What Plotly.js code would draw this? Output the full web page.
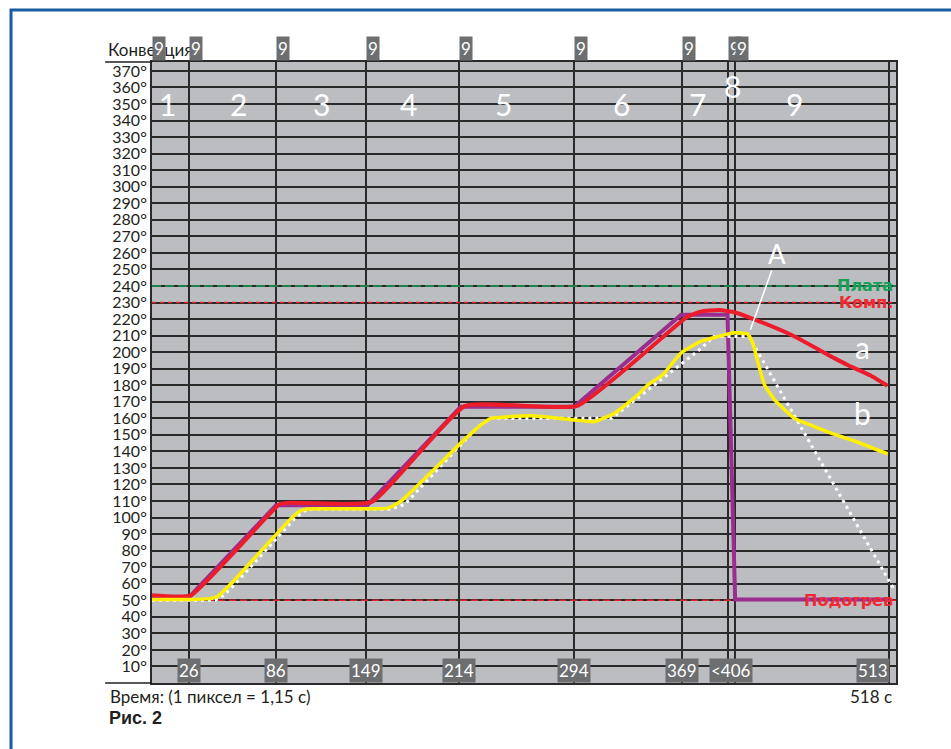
<!DOCTYPE html>
<html>
<head>
<meta charset="utf-8">
<script src="https://cdn.plot.ly/plotly-3.0.1.min.js"></script>
<style>
html,body{margin:0;padding:0;background:#fff;}
#chart{width:951px;height:749px;}
</style>
</head>
<body>
<div id="chart"></div>
<script>
// ---- data ----
var purpleT = [0, 26, 86.4, 150, 215, 294, 368.4, 400.7, 406, 513];
var purpleV = [52, 52, 107.5, 107.5, 167, 167, 222.6, 222.6, 50.5, 50.5];

var redT = [0, 27, 88.7, 95, 153, 218, 296, 372, 382, 395, 406, 417, 445, 475, 484, 500, 512];
var redV = [53, 53, 108, 109, 109.5, 167.5, 167.5, 221, 224.5, 225.5, 224, 220.6, 210.5, 196.4, 192.4, 186, 179.7];

var yellowT = [0, 26, 40, 46, 55, 97, 103, 108, 164, 173, 215, 229, 236, 264, 294, 308, 322, 338, 345, 355.6, 368.4, 382, 391, 405, 414.7, 418.2, 422.6, 426.4, 433.4, 447.2, 461.2, 472.8, 490, 512.2];
var yellowV = [50.5, 50.5, 51, 52.5, 60, 99.6, 104, 105.2, 105.7, 109.7, 145, 156, 160, 161.5, 159, 158, 163, 174, 180, 186.3, 199.6, 206.5, 208.7, 211.7, 211, 205.7, 191.4, 180.3, 171.2, 160.1, 155, 151, 146, 138.5];

var dotT = [0, 44, 50, 58, 100, 106, 112, 166, 176, 227, 236, 320, 382, 391, 415.6, 517];
var dotV = [50, 50, 53, 60, 100, 104, 105, 105, 108, 155, 160, 160, 202, 209.5, 209.5, 56];

var limitPlata = 240;
var limitKomp = 230;
var limitPodogrev = 50;

var boundaries = [26, 86, 149, 214, 294, 369, 400.7, 406, 513];
var topMarks = [0, 26, 86, 149, 214, 294, 369, 400.7, 406];
var bottomMarks = [26, 86, 149, 214, 294, 369, 403];
var bottomLabels = ['26', '86', '149', '214', '294', '369', '<406'];
var zoneLabels = ['1', '2', '3', '4', '5', '6', '7', '8', '9'];
var zoneT = [11, 60, 117.8, 178.3, 245, 326.6, 380, 404.5, 447];
var zoneV = [350, 350, 350, 350, 350, 350, 350, 361, 350];

var yTicks = [];
var yTickText = [];
for (var v = 10; v <= 370; v += 10) { yTicks.push(v); yTickText.push(v + '°'); }

var tEnd = 518;

// ---- traces ----
var traces = [
  {x: [0, tEnd], y: [limitPlata, limitPlata], mode: 'lines', line: {color: '#17a058', width: 1.5, dash: '9px,4px'}, hoverinfo: 'skip'},
  {x: [0, tEnd], y: [limitKomp, limitKomp], mode: 'lines', line: {color: '#e3202b', width: 1.5, dash: '4px,4px'}, hoverinfo: 'skip'},
  {x: [0, tEnd], y: [limitPodogrev, limitPodogrev], mode: 'lines', line: {color: '#e3202b', width: 1.5, dash: '7px,4px'}, hoverinfo: 'skip'},
  {x: purpleT, y: purpleV, mode: 'lines', line: {color: '#9a2d8f', width: 4}},
  {x: redT, y: redV, mode: 'lines', line: {color: '#ec1c2a', width: 4, shape: 'spline', smoothing: 0.4}},
  {x: dotT, y: dotV, mode: 'lines', line: {color: '#ffffff', width: 3, dash: '3px,4px'}},
  {x: yellowT, y: yellowV, mode: 'lines', line: {color: '#fff000', width: 3.5, shape: 'spline', smoothing: 0.4}}
];

// ---- annotations ----
var ann = [];
var fontMain = 'Lato, "DejaVu Sans", sans-serif';
ann.push({xref: 'paper', yref: 'paper', x: -0.062, y: 1, xanchor: 'left', yanchor: 'bottom', yshift: 0,
  text: 'Конвекция', showarrow: false, font: {family: fontMain, size: 17, color: '#231f20'}});
topMarks.forEach(function (t) {
  ann.push({x: t, y: 1, xref: 'x', yref: 'paper', xanchor: 'left', yanchor: 'bottom', yshift: 1,
    text: '9', showarrow: false, bgcolor: '#6d6e70', borderpad: 1,
    font: {family: fontMain, size: 17, color: '#ffffff'}});
});
bottomMarks.forEach(function (t, i) {
  ann.push({x: t, y: 0, xref: 'x', yref: 'paper', xanchor: 'center', yanchor: 'bottom', yshift: 0,
    text: bottomLabels[i], showarrow: false, bgcolor: '#6d6e70', borderpad: 1,
    font: {family: fontMain, size: 17, color: '#ffffff'}});
});
ann.push({x: 513.5, y: 0, xref: 'x', yref: 'paper', xanchor: 'right', yanchor: 'bottom',
  text: '513', showarrow: false, bgcolor: '#6d6e70', borderpad: 1,
  font: {family: fontMain, size: 17, color: '#ffffff'}});
zoneLabels.forEach(function (s, i) {
  ann.push({x: zoneT[i], y: zoneV[i], text: s, showarrow: false,
    font: {family: fontMain, size: 30, color: '#ffffff'}});
});
var boldFont = '"DejaVu Sans", sans-serif';
ann.push({x: tEnd, y: limitPlata, xanchor: 'right', text: '<b>Плата</b>', showarrow: false, xshift: -1,
  font: {family: boldFont, size: 16, color: '#17a058'}});
ann.push({x: tEnd, y: limitKomp, xanchor: 'right', text: '<b>Комп.</b>', showarrow: false, xshift: -1,
  font: {family: boldFont, size: 16, color: '#ee2a33'}});
ann.push({x: tEnd, y: limitPodogrev, xanchor: 'right', text: '<b>Подогрев</b>', showarrow: false, xshift: -1,
  font: {family: boldFont, size: 16, color: '#ee2a33'}});
ann.push({x: 435, y: 259.5, text: 'A', showarrow: false, font: {family: fontMain, size: 26, color: '#ffffff'}});
ann.push({x: 495, y: 203, text: 'a', showarrow: false, font: {family: fontMain, size: 30, color: '#ffffff'}});
ann.push({x: 495, y: 163, text: 'b', showarrow: false, font: {family: fontMain, size: 30, color: '#ffffff'}});
ann.push({xref: 'paper', yref: 'paper', x: -0.059, y: 0, xanchor: 'left', yanchor: 'top', yshift: -1,
  text: 'Время: (1 пиксел = 1,15 с)', showarrow: false, font: {family: fontMain, size: 17, color: '#231f20'}});
ann.push({xref: 'paper', yref: 'paper', x: 0.997, y: 0, xanchor: 'right', yanchor: 'top', yshift: -1,
  text: '518 с', showarrow: false, font: {family: fontMain, size: 17, color: '#231f20'}});
ann.push({xref: 'paper', yref: 'paper', x: -0.061, y: -0.056, xanchor: 'left', yanchor: 'middle',
  text: '<b>Рис. 2</b>', showarrow: false, font: {family: '"Liberation Sans", Arial, sans-serif', size: 18, color: '#231f20'}});

// ---- shapes ----
var shapes = [
  {type: 'line', xref: 'paper', yref: 'paper', x0: -0.063, x1: 0, y0: 1, y1: 1, line: {color: '#231f20', width: 1.5}},
  {type: 'line', xref: 'paper', yref: 'paper', x0: -0.063, x1: 0, y0: 0, y1: 0, line: {color: '#231f20', width: 1.5}},
  {type: 'line', xref: 'x', yref: 'y', x0: 431.5, y0: 249.4, x1: 416.6, y1: 213.5, line: {color: '#ffffff', width: 1.5}},
  {type: 'rect', xref: 'paper', yref: 'paper', x0: -0.1895, x1: 1.2, y0: -0.2, y1: 1.0837,
   line: {color: '#1a5aa0', width: 3}, fillcolor: 'rgba(0,0,0,0)', layer: 'below'}
];

var layout = {
  width: 951, height: 749,
  margin: {l: 152, r: 55, t: 62, b: 66},
  paper_bgcolor: '#ffffff',
  plot_bgcolor: '#bcbdc1',
  showlegend: false,
  xaxis: {range: [0, tEnd], tickvals: boundaries, showticklabels: false, ticks: '',
    showgrid: true, gridcolor: '#2a2a2a', gridwidth: 2, zeroline: false,
    showline: true, linecolor: '#2a2a2a', linewidth: 2, mirror: true, fixedrange: true},
  yaxis: {range: [0, 375.4], tickvals: yTicks, ticktext: yTickText, ticks: '',
    showgrid: true, gridcolor: '#2a2a2a', gridwidth: 2, zeroline: false,
    showline: true, linecolor: '#2a2a2a', linewidth: 2, mirror: true,
    tickfont: {family: fontMain, size: 16, color: '#231f20'}, fixedrange: true},
  annotations: ann,
  shapes: shapes,
  hovermode: false
};

Plotly.newPlot('chart', traces, layout, {displayModeBar: false, staticPlot: true});
</script>
</body>
</html>
